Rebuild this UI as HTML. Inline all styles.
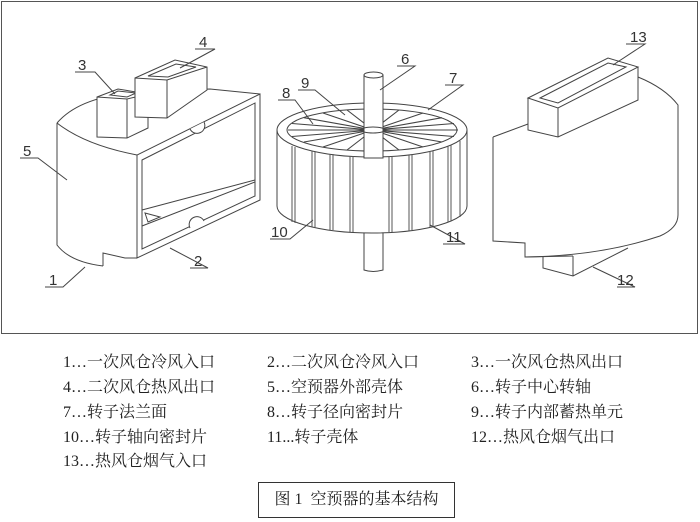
<!DOCTYPE html>
<html><head><meta charset="utf-8"><style>
body{margin:0;width:700px;height:522px;background:#fff;overflow:hidden;font-family:"Liberation Serif","Noto Serif CJK SC",serif;}
.fr{position:absolute;left:1px;top:1px;width:695px;height:331px;border:1px solid #555;}
.t{position:absolute;font-size:16px;line-height:20px;color:#222;white-space:nowrap;}
.cap{position:absolute;left:258px;top:482px;width:195px;height:34px;border:1px solid #333;font-size:16px;line-height:34px;text-align:center;color:#222;white-space:nowrap;}
svg{position:absolute;left:0;top:0;}
text{font-family:"Liberation Sans",sans-serif;font-size:15px;fill:#333;}
</style></head><body>
<div class="fr"></div>
<svg width="700" height="334" viewBox="0 0 700 334" fill="none" stroke="#444" stroke-width="1">
<path d="M57,123 Q80,96 140,92 L210,89 L260,94"/>
<path d="M57,123 Q85,145 137,155"/>
<path d="M57,123 L57,245 Q70,262 103,266"/>
<path d="M103,266 L103,253 L125,258 L137,258"/>
<path d="M137,155 L137,258 L260,200 L260,94 Z"/>
<path d="M142,160 L255,103 L255,196 L142,249 Z"/>
<path d="M190,129 A6,6 0 0 0 204,122" fill="#fff"/>
<path d="M190,228 A6,6 0 0 1 204,221" fill="#fff"/>
<path d="M142,210 L255,180 M142,226 L255,182 M145,213 L160,217 L148,222 Z"/>
<path d="M97,97 L97,137 L127,138 L148,128 L148,94 L118,89 Z M97,97 L127,99 L148,94 M127,99 L127,138" fill="#fff"/>
<path d="M110,95 L118,91 L136,93 L127,97 Z"/>
<path d="M135,78 L135,117 L167,118 L207,90 L207,67 L175,60 Z M135,78 L167,80 L207,67 M167,80 L167,118" fill="#fff"/>
<path d="M148,76 L176,64 L196,67 L168,77 Z"/>
<path d="M277,130 L277,206 A95,27 0 0 0 467,206 L467,130"/>
<ellipse cx="372" cy="130" rx="95" ry="27"/>
<ellipse cx="372" cy="130" rx="85" ry="21"/>
<g stroke-width="1.1">
<path d="M373,130 L458,130 M373,130 L454,136.5 M373,130 L442,142 M373,130 L423,147 M373,130 L399,150 M373,130 L373,151 M373,130 L347,150 M373,130 L323,147 M373,130 L304,142 M373,130 L292,136.5 M373,130 L288,130 M373,130 L292,123.5 M373,130 L304,117.7 M373,130 L323,113 M373,130 L347,110 M373,130 L399,110 M373,130 L423,113 M373,130 L442,117.7 M373,130 L454,123.5"/>
</g>
<g stroke="#555">
<path d="M292,146 v76 M295,147 v76 M312,151 v76 M315,152 v76 M330,154 v76 M333,154 v76 M350,156 v76 M353,156 v76 M389,156 v76 M392,156 v76 M409,155 v76 M412,154 v76 M430,151 v76 M433,151 v76 M448,146 v76 M451,145 v76 M460,141 v76"/>
</g>
<rect x="364" y="75" width="19" height="83" fill="#fff"/>
<ellipse cx="373.5" cy="75" rx="9.5" ry="3" fill="#fff"/>
<path d="M364,233 L364,270 Q373,273 383,270 L383,233"/>
<ellipse cx="373" cy="130" rx="12" ry="3"/>
<path d="M493,137 L493,241 L525,243 L525,257 Q600,256 660,236 Q678,228 678,215 L678,105 Q665,88 638,77"/>
<path d="M493,137 L528,124"/>
<path d="M525,257 L573,256"/>
<path d="M543,257 L543,268 L573,276 L628,248 M573,256 L573,276"/>
<path d="M528,98 L608,58 L638,67 L558,108 Z" fill="#fff"/>
<path d="M528,98 L528,130 L558,137 L638,100 L638,67 M558,108 L558,137"/>
<path d="M540,98 L608,63 L626,67 L558,103 Z"/>
<path d="M75,72 L95,72 L115,94 M195,49 L215,49 L180,68 M20,158 L38,158 L67,180 M45,287 L63,287 L85,267 M190,268 L208,268 L170,248 M278,100 L295,100 L313,124 M298,90 L315,90 L345,115 M397,66 L415,66 L380,90 M445,85 L463,85 L428,110 M270,239 L290,239 L313,220 M443,244 L465,244 L430,225 M626,44 L645,44 L613,65 M617,287 L635,287 L593,267"/>
</svg>
<svg width="700" height="334" style="pointer-events:none">
<text x="78" y="70">3</text><text x="199" y="47">4</text><text x="23" y="156">5</text>
<text x="49" y="285">1</text><text x="194" y="266">2</text>
<text x="282" y="98">8</text><text x="301" y="88">9</text><text x="401" y="64">6</text><text x="449" y="83">7</text>
<text x="271" y="237">10</text><text x="446" y="242">11</text><text x="630" y="42">13</text><text x="617" y="285">12</text>
</svg>
<div class="t" style="left:63px;top:353px">1…一次风仓冷风入口</div>
<div class="t" style="left:267px;top:353px">2…二次风仓冷风入口</div>
<div class="t" style="left:471px;top:353px">3…一次风仓热风出口</div>
<div class="t" style="left:63px;top:378px">4…二次风仓热风出口</div>
<div class="t" style="left:267px;top:378px">5…空预器外部壳体</div>
<div class="t" style="left:471px;top:378px">6…转子中心转轴</div>
<div class="t" style="left:63px;top:403px">7…转子法兰面</div>
<div class="t" style="left:267px;top:403px">8…转子径向密封片</div>
<div class="t" style="left:471px;top:403px">9…转子内部蓄热单元</div>
<div class="t" style="left:63px;top:428px">10…转子轴向密封片</div>
<div class="t" style="left:267px;top:428px">11...转子壳体</div>
<div class="t" style="left:471px;top:428px">12…热风仓烟气出口</div>
<div class="t" style="left:63px;top:452px">13…热风仓烟气入口</div>
<div class="cap">图 1&nbsp; 空预器的基本结构</div>
</body></html>
